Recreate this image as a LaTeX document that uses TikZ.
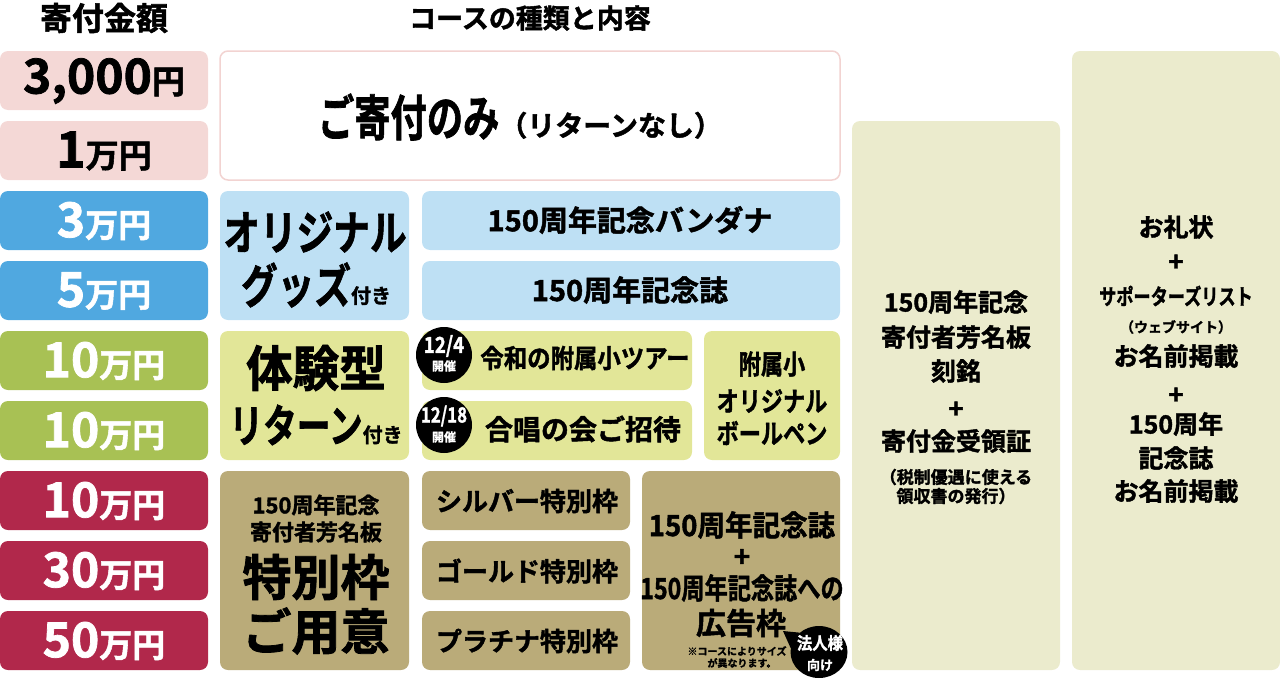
\documentclass[tikz,border=0pt]{standalone}
\usepackage{fontspec}
\usepackage{graphicx}
\setmainfont{Noto Sans CJK JP Bold}[FakeBold=1.6]
\usetikzlibrary{shapes.geometric}
\definecolor{pinkbg}{HTML}{F4D8D6}
\definecolor{pinkline}{HTML}{F2D3D1}
\definecolor{bluebg}{HTML}{50A8E0}
\definecolor{ltblue}{HTML}{BEE0F4}
\definecolor{greenbg}{HTML}{A8C154}
\definecolor{ltgreen}{HTML}{E2E698}
\definecolor{crimson}{HTML}{B1284B}
\definecolor{tan}{HTML}{BAAB79}
\definecolor{cream}{HTML}{EBEBCD}
\newcommand\fs[1]{\fontsize{#1}{#1}\selectfont}
\newcommand\hsc[2]{\scalebox{#1}[1]{#2}}
\newcommand\cellbox[6]{\node[cell, fill=#6, minimum width={#4-#2}, minimum height={#5-#3}] (#1) at (#2,#3) {};}
\tikzset{
  cell/.style={rounded corners=8pt, inner sep=0pt, outer sep=0pt, anchor=north west},
  txt/.style={inner sep=0pt, anchor=center, align=center},
  wtxt/.style={txt, text=white},
  badge/.style={circle, fill=black, minimum size=56pt, inner sep=0pt},
}
\begin{document}
\begin{tikzpicture}[x=1pt,y=-1pt]
\useasboundingbox (0,0) rectangle (1280,680);
% headers
\node[txt] (h1) at (104,18) {\fs{32}寄付金額};
\node[txt] (h2) at (530,18) {\fs{27}コースの種類と内容};
% left column
\cellbox{r0}{0}{51}{208}{110}{pinkbg}
\cellbox{r1}{0}{121}{208}{180}{pinkbg}
\cellbox{r2}{0}{191}{208}{250}{bluebg}
\cellbox{r3}{0}{261}{208}{320}{bluebg}
\cellbox{r4}{0}{331}{208}{390}{greenbg}
\cellbox{r5}{0}{401}{208}{460}{greenbg}
\cellbox{r6}{0}{471}{208}{530}{crimson}
\cellbox{r7}{0}{541}{208}{600}{crimson}
\cellbox{r8}{0}{611}{208}{670}{crimson}
\node[txt] (t0) at (104,81) {\fs{48}3,000\fs{33}円};
\node[txt] (t1) at (104,151) {\fs{50}1\fs{33}万円};
\node[wtxt] (t2) at (104,221) {\fs{48}3\fs{33}万円};
\node[wtxt] (t3) at (104,291) {\fs{48}5\fs{33}万円};
\node[wtxt] (t4) at (104,361) {\fs{48}10\fs{33}万円};
\node[wtxt] (t5) at (104,431) {\fs{48}10\fs{33}万円};
\node[wtxt] (t6) at (104,501) {\fs{48}10\fs{33}万円};
\node[wtxt] (t7) at (104,571) {\fs{48}30\fs{33}万円};
\node[wtxt] (t8) at (104,641) {\fs{48}50\fs{33}万円};
% course boxes
\node[cell, fill=white, draw=pinkline, line width=1.5pt, minimum width=620, minimum height=129] (kifu) at (220,51) {};
\node[txt] (kifut) at (520,117) {\hsc{0.74}{\fs{49}ご寄付のみ}\hsc{1.0}{\fs{28}（リターンなし）}};
\cellbox{orig}{220}{191}{409}{320}{ltblue}
\cellbox{band}{422}{191}{840}{250}{ltblue}
\cellbox{kinen}{422}{261}{840}{320}{ltblue}
\cellbox{taiken}{220}{331}{409}{460}{ltgreen}
\cellbox{tour}{422}{331}{692}{390}{ltgreen}
\cellbox{chorus}{422}{401}{692}{460}{ltgreen}
\cellbox{pen}{704}{331}{840}{460}{ltgreen}
\cellbox{toku}{220}{471}{409}{670}{tan}
\cellbox{silver}{422}{471}{630}{530}{tan}
\cellbox{gold}{422}{541}{630}{600}{tan}
\cellbox{plat}{422}{611}{630}{670}{tan}
\cellbox{ad}{642}{471}{840}{670}{tan}
\cellbox{rc1}{852}{121}{1060}{670}{cream}
\cellbox{rc2}{1072}{51}{1280}{670}{cream}
% texts
\node[txt] (origa) at (315,232) {\hsc{0.78}{\fs{47}オリジナル}};
\node[txt] (origb) at (316,285) {\hsc{0.78}{\fs{47}グッズ}\fs{20}付き};
\node[txt] (banda) at (630,220) {\fs{29}150周年記念バンダナ};
\node[txt] (kinena) at (630,290) {\fs{29}150周年記念誌};
\node[txt] (taikena) at (316,368) {\hsc{0.95}{\fs{49}体験型}};
\node[txt] (taikenb) at (316,425) {\hsc{0.75}{\fs{45}リターン}\fs{20}付き};
\node[txt] (toura) at (585,358) {\hsc{0.9}{\fs{26}令和の附属小ツアー}};
\node[txt] (chorusa) at (583,429) {\fs{28}合唱の会ご招待};
\node[txt] (pena) at (772,364) {\hsc{0.82}{\fs{27}附属小}};
\node[txt] (penb) at (772,401) {\hsc{0.82}{\fs{27}オリジナル}};
\node[txt] (penc) at (772,433) {\hsc{0.82}{\fs{27}ボールペン}};
% badges
\node[badge] (b1) at (444,355) {};
\node[badge] (b2) at (444,425) {};
\node[wtxt] (b1a) at (444,346) {\hsc{0.85}{\fs{22}12/4}};
\node[wtxt] (b1b) at (444,366) {\fs{12}開催};
\node[wtxt] (b2a) at (444,416) {\hsc{0.8}{\fs{21}12/18}};
\node[wtxt] (b2b) at (444,437) {\fs{12}開催};
% special
\node[txt] (tokua) at (316,505) {\fs{22}150周年記念};
\node[txt] (tokub) at (316,532) {\fs{22}寄付者芳名板};
\node[txt] (tokuc) at (316,577) {\fs{49}特別枠};
\node[txt] (tokud) at (316,631) {\fs{49}ご用意};
\node[txt] (silvera) at (527,501) {\fs{26}シルバー特別枠};
\node[txt] (golda) at (527,571) {\fs{26}ゴールド特別枠};
\node[txt] (plata) at (527,641) {\fs{26}プラチナ特別枠};
\node[txt] (ada) at (742,525) {\hsc{0.95}{\fs{29}150周年記念誌}};
\node[txt] (adb) at (742,558) {\fs{28}+};
\node[txt] (adc) at (742,588) {\hsc{0.8}{\fs{29}150周年記念誌への}};
\node[txt] (add) at (741,623) {\fs{30}広告枠};
\node[txt] (ade) at (737,651) {\fs{10}※コースによりサイズ};
\node[txt] (adf) at (742,663) {\fs{10}が異なります。};
\node[ellipse, fill=black, minimum width=57pt, minimum height=52pt, inner sep=0pt] (hb) at (819,652) {};
\coordinate (tip) at (783,631);
\fill (tip) -- (hb.135) -- (hb.172) -- cycle;
\node[wtxt] (hba) at (820,643) {\hsc{0.9}{\fs{17}法人様}};
\node[wtxt] (hbb) at (820,665) {\fs{13}向け};
% right column 1
\node[txt] (rc1a) at (956,302) {\fs{25}150周年記念};
\node[txt] (rc1b) at (956,337) {\fs{25}寄付者芳名板};
\node[txt] (rc1c) at (956,371) {\fs{25}刻銘};
\node[txt] (rc1d) at (956,410) {\fs{26}+};
\node[txt] (rc1e) at (956,441) {\fs{25}寄付金受領証};
\node[txt] (rc1f) at (956,477) {\fs{17}（税制優遇に使える};
\node[txt] (rc1g) at (956,496) {\fs{17}領収書の発行）};
% right column 2
\node[txt] (rc2a) at (1176,227) {\fs{25}お礼状};
\node[txt] (rc2b) at (1176,263) {\fs{26}+};
\node[txt] (rc2c) at (1176,296) {\hsc{0.78}{\fs{22}サポーターズリスト}};
\node[txt] (rc2d) at (1176,327) {\fs{14}（ウェブサイト）};
\node[txt] (rc2e) at (1176,356) {\fs{25}お名前掲載};
\node[txt] (rc2f) at (1176,396) {\fs{26}+};
\node[txt] (rc2g) at (1176,424) {\fs{25}150周年};
\node[txt] (rc2h) at (1176,458) {\fs{25}記念誌};
\node[txt] (rc2i) at (1176,491) {\fs{25}お名前掲載};
\end{tikzpicture}
\end{document}
